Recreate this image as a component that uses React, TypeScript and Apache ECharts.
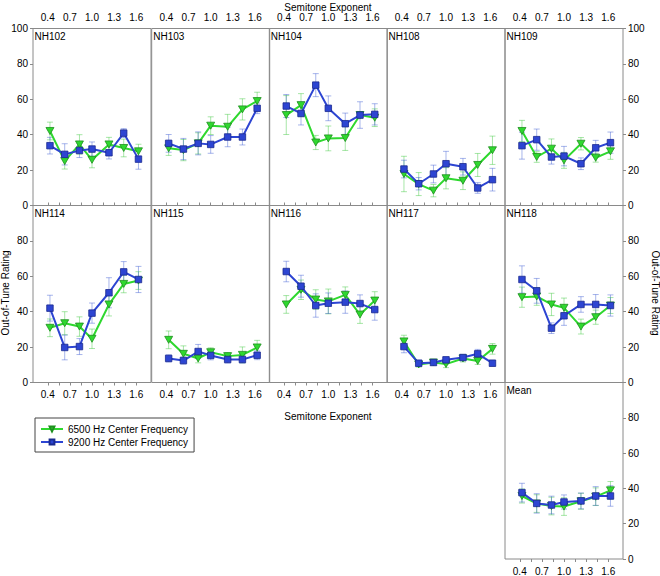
import React, { useEffect, useRef } from 'react';
import * as echarts from 'echarts';

// ---- data ----
const xValues = [0.43, 0.63, 0.83, 1.0, 1.23, 1.43, 1.63];
const xTickLabels = [0.4, 0.7, 1.0, 1.3, 1.6];
const xTickMarks = [0.4, 0.55, 0.7, 0.85, 1.0, 1.15, 1.3, 1.45, 1.6];
const panelNames = ['NH102', 'NH103', 'NH104', 'NH108', 'NH109', 'NH114', 'NH115', 'NH116', 'NH117', 'NH118', 'Mean'];
const seriesNames = ['6500 Hz Center Frequency', '9200 Hz Center Frequency'];

const mean6500 = [
  [42.1, 25.1, 34.5, 25.8, 34.5, 32.5, 30.6],
  [32.3, 31.3, 35.1, 45.1, 44.5, 54.3, 59.0],
  [51.1, 56.7, 35.6, 37.9, 38.1, 51.1, 49.6],
  [17.8, 12.1, 8.4, 15.4, 14.0, 22.9, 31.2],
  [42.1, 27.4, 32.1, 25.5, 34.9, 27.0, 30.6],
  [30.9, 33.5, 31.6, 24.7, 44.1, 55.7, 57.6],
  [24.1, 16.2, 13.6, 17.1, 14.9, 15.6, 19.8],
  [44.1, 52.4, 46.9, 45.8, 49.5, 38.4, 46.3],
  [23.2, 10.2, 11.3, 10.4, 13.6, 12.2, 19.0],
  [48.2, 48.6, 44.1, 42.2, 31.6, 36.9, 43.5],
  [35.7, 31.4, 30.0, 29.7, 32.7, 35.3, 38.9],
];
const err6500 = [
  [5, 4.5, 5.5, 4.5, 4, 5, 4],
  [4, 6, 6, 5, 7, 6, 5],
  [11, 6.5, 4, 7, 7, 2, 5],
  [10, 6.5, 3.5, 6, 5, 6.5, 8],
  [6, 3, 5.5, 4.5, 3.5, 2.5, 4.5],
  [5, 6.5, 5.5, 5.5, 6.5, 5, 5],
  [5, 4.5, 2.5, 2.5, 2, 4.5, 4],
  [5, 5.5, 5.5, 7, 4.5, 5, 5],
  [3.5, 1.5, 1.5, 2, 2, 2, 3],
  [5.7, 5, 6.3, 5.5, 4.2, 4, 4.5],
  [4, 5, 5, 5, 4.5, 5, 5],
];
const mean9200 = [
  [33.8, 28.9, 31.1, 31.9, 29.8, 40.9, 26.2],
  [35.1, 31.9, 35.1, 34.5, 38.7, 38.7, 54.9],
  [56.2, 52.0, 68.0, 54.9, 46.2, 51.1, 51.5],
  [20.6, 12.3, 17.8, 23.6, 21.9, 9.9, 14.6],
  [33.8, 37.2, 27.4, 27.9, 23.6, 32.6, 35.5],
  [42.0, 19.8, 20.3, 39.2, 50.7, 62.5, 58.2],
  [13.6, 12.4, 17.5, 15.3, 13.0, 13.0, 15.4],
  [62.7, 54.4, 43.5, 44.8, 45.4, 44.6, 41.2],
  [20.3, 10.9, 11.3, 12.8, 14.1, 16.2, 10.9],
  [58.2, 51.8, 30.7, 37.7, 44.1, 44.1, 43.5],
  [37.6, 31.5, 30.6, 32.3, 32.9, 35.7, 35.7],
];
const err9200 = [
  [4.7, 6, 4, 4, 3.5, 2.5, 5.7],
  [5, 6, 6.5, 5, 5.5, 4.5, 3],
  [6.5, 6.5, 6.5, 7, 6, 7.5, 6],
  [5, 3.5, 5, 7, 4.7, 3, 6.4],
  [7.6, 6, 4, 5.5, 3.3, 4.2, 6],
  [7.3, 7, 4.5, 5.7, 8.5, 5.8, 7.4],
  [2, 2, 4, 2.5, 2, 2, 2.5],
  [5.8, 6.2, 6.6, 5.8, 6.3, 4.9, 6],
  [3.5, 1.5, 1.5, 1.5, 1.5, 2.5, 1.5],
  [7.7, 7, 3, 5.4, 4.4, 5.6, 6],
  [5.3, 5.5, 5, 4, 4.5, 5.3, 5.8],
];

// ---- layout ----
const FONT = 'Liberation Sans, Arial, Helvetica, sans-serif';
const colLeft = [33, 151.7, 269.3, 387, 505];
const rowTop = [28.5, 205.5, 382.5];
const PW = 118;
const PH = 177;

const GREEN = '#2fd82f';
const GREEN_DARK = '#1f8f1f';
const GREEN_ERR = 'rgba(60,200,60,0.45)';
const BLUE = '#2d45d2';
const BLUE_DARK = '#1a2a8f';
const BLUE_ERR = 'rgba(60,90,210,0.45)';
const TRI_DOWN = 'path://M0,0 L10,0 L5,9 Z';

function panelPos(i: number) {
  if (i < 5) return { row: 0, col: i };
  if (i < 10) return { row: 1, col: i - 5 };
  return { row: 2, col: 4 };
}

function errRender(color: string) {
  return (params: any, api: any) => {
    const x = api.value(0);
    const lo = api.value(1);
    const hi = api.value(2);
    const p1 = api.coord([x, lo]);
    const p2 = api.coord([x, hi]);
    const w = 3;
    const style = { stroke: color, lineWidth: 1, fill: 'none' };
    return {
      type: 'group',
      children: [
        { type: 'line', shape: { x1: p1[0], y1: p1[1], x2: p2[0], y2: p2[1] }, style },
        { type: 'line', shape: { x1: p1[0] - w, y1: p1[1], x2: p1[0] + w, y2: p1[1] }, style },
        { type: 'line', shape: { x1: p2[0] - w, y1: p2[1], x2: p2[0] + w, y2: p2[1] }, style },
      ],
    };
  };
}

export default function App() {
  const ref = useRef<HTMLDivElement>(null);
  useEffect(() => {
    const chart = echarts.init(ref.current!, null, { renderer: 'svg' });
    const grids: any[] = [];
    const xAxes: any[] = [];
    const yAxes: any[] = [];
    const titles: any[] = [];
    const series: any[] = [];

    panelNames.forEach((name, i) => {
      const { row, col } = panelPos(i);
      grids.push({
        left: colLeft[col], top: rowTop[row], width: PW, height: PH,
        show: true, borderColor: '#8a8a8a', borderWidth: 1, backgroundColor: 'transparent',
      });
      const showX = row === 0 || (row === 1 && col < 4) || row === 2;
      const topPos = row === 0;
      xAxes.push({
        gridIndex: i, type: 'value', min: 0.2, max: 1.8,
        position: topPos ? 'top' : 'bottom',
        axisLine: { show: false }, splitLine: { show: false },
        axisTick: { show: showX, customValues: xTickMarks, length: 3, lineStyle: { color: '#8a8a8a' } },
        axisLabel: {
          show: showX, customValues: xTickLabels, margin: topPos ? 6 : 7,
          formatter: (v: number) => v.toFixed(1), fontSize: 10, color: '#000', fontFamily: FONT,
        },
      });
      const showY = col === 0 || col === 4;
      yAxes.push({
        gridIndex: i, type: 'value', min: 0, max: 100, interval: 20,
        position: col === 4 ? 'right' : 'left',
        axisLine: { show: false }, splitLine: { show: false },
        axisTick: { show: showY, length: 3, lineStyle: { color: '#8a8a8a' } },
        axisLabel: {
          show: showY, margin: 5, showMaxLabel: row === 0, showMinLabel: true,
          fontSize: 10, color: '#000', fontFamily: FONT,
        },
      });
      titles.push({
        text: name, left: colLeft[col] + 1.5, top: rowTop[row] + 2.5, padding: 0,
        textStyle: { fontSize: 10, fontWeight: 'normal', color: '#000', fontFamily: FONT },
      });

      series.push({
        type: 'custom', name: 'err6500-' + i, xAxisIndex: i, yAxisIndex: i, z: 1,
        renderItem: errRender(GREEN_ERR), encode: { x: 0, y: [1, 2] },
        data: xValues.map((x, j) => [x, mean6500[i][j] - err6500[i][j], mean6500[i][j] + err6500[i][j]]),
      });
      series.push({
        type: 'custom', name: 'err9200-' + i, xAxisIndex: i, yAxisIndex: i, z: 1,
        renderItem: errRender(BLUE_ERR), encode: { x: 0, y: [1, 2] },
        data: xValues.map((x, j) => [x, mean9200[i][j] - err9200[i][j], mean9200[i][j] + err9200[i][j]]),
      });
      series.push({
        type: 'line', name: seriesNames[0], xAxisIndex: i, yAxisIndex: i, z: 2,
        data: xValues.map((x, j) => [x, mean6500[i][j]]),
        symbol: TRI_DOWN, symbolSize: [8, 7], showSymbol: true,
        lineStyle: { color: GREEN, width: 2 },
        itemStyle: { color: GREEN, borderColor: GREEN_DARK, borderWidth: 0.8 },
      });
      series.push({
        type: 'line', name: seriesNames[1], xAxisIndex: i, yAxisIndex: i, z: 3,
        data: xValues.map((x, j) => [x, mean9200[i][j]]),
        symbol: 'rect', symbolSize: 6.5, showSymbol: true,
        lineStyle: { color: BLUE, width: 2 },
        itemStyle: { color: BLUE, borderColor: BLUE_DARK, borderWidth: 0.8 },
      });
    });

    const option: any = {
      animation: false,
      textStyle: { fontFamily: FONT },
      title: titles,
      grid: grids,
      xAxis: xAxes,
      yAxis: yAxes,
      series,
      legend: {
        data: seriesNames, orient: 'vertical', left: 35, top: 418,
        itemWidth: 22, itemHeight: 6, itemGap: 3, padding: [6, 6, 5, 5],
        borderColor: '#444', borderWidth: 1,
        textStyle: { fontSize: 10, color: '#000', fontFamily: FONT },
      },
      graphic: [
        { type: 'text', x: 328, y: 7, style: { text: 'Semitone Exponent', fontSize: 10, fill: '#000', font: '10px ' + FONT, textAlign: 'center', textVerticalAlign: 'middle' } },
        { type: 'text', x: 328, y: 416, style: { text: 'Semitone Exponent', fontSize: 10, fill: '#000', font: '10px ' + FONT, textAlign: 'center', textVerticalAlign: 'middle' } },
        { type: 'text', x: 5, y: 293, rotation: Math.PI / 2, style: { text: 'Out-of-Tune Rating', fontSize: 10, fill: '#000', font: '10px ' + FONT, textAlign: 'center', textVerticalAlign: 'middle' } },
        { type: 'text', x: 655, y: 293, rotation: -Math.PI / 2, style: { text: 'Out-of-Tune Rating', fontSize: 10, fill: '#000', font: '10px ' + FONT, textAlign: 'center', textVerticalAlign: 'middle' } },
      ],
    };
    chart.setOption(option);
    return () => chart.dispose();
  }, []);
  return <div ref={ref} style={{ position: 'absolute', left: 0, top: 0, width: 660, height: 576 }} />;
}
